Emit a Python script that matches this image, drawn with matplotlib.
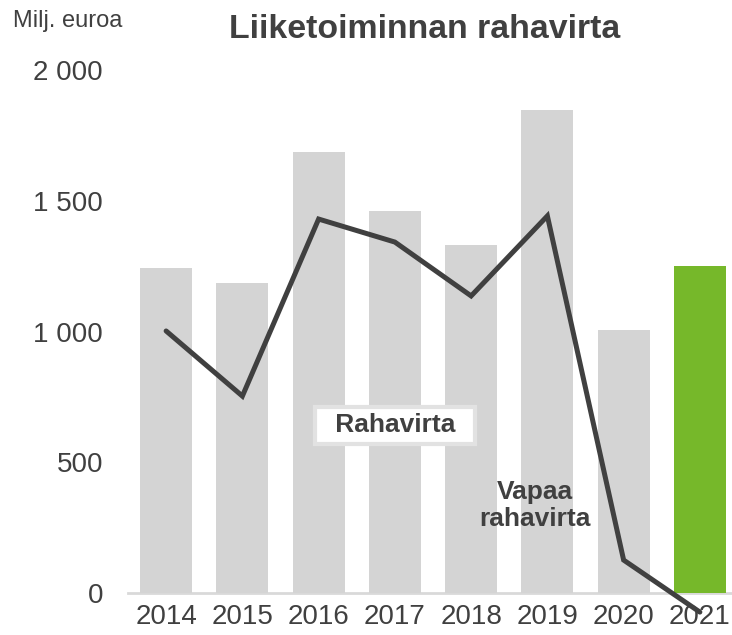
import matplotlib.pyplot as plt
import numpy as np

plt.rcParams['font.family'] = ['Liberation Sans', 'DejaVu Sans']

years = ['2014', '2015', '2016', '2017', '2018', '2019', '2020', '2021']
rahavirta = [1243, 1185, 1686, 1461, 1331, 1847, 1006, 1250]
vapaa_rahavirta = [1002, 753, 1430, 1342, 1136, 1442, 126, -73]
y_ticks = [0, 500, 1000, 1500, 2000]
y_tick_labels = ['0', '500', '1 000', '1 500', '2 000']

txt = '#404040'
bar_colors = ['#d4d4d4'] * (len(years) - 1) + ['#76b82a']

fig = plt.figure(figsize=(7.32, 6.35), dpi=100)
ax = fig.add_axes([128 / 732, 1 - 593 / 635, 610 / 732, (593 - 70) / 635])

x = np.arange(len(years))
ax.bar(x, rahavirta, width=0.68, color=bar_colors, zorder=2)
ax.plot(x, vapaa_rahavirta, color='#404040', lw=3.6, zorder=3, clip_on=False,
        solid_capstyle='round', solid_joinstyle='miter')

ax.set_xlim(-0.5, 7.5)
ax.set_ylim(0, 2000)
ax.set_xticks(x)
ax.set_xticklabels(years, fontsize=20, color=txt)
ax.set_yticks(y_ticks)
ax.set_yticklabels(y_tick_labels, fontsize=20, color=txt)
ax.tick_params(axis='x', length=0, pad=8)
ax.tick_params(axis='y', length=0, pad=18)
for s in ['top', 'right', 'left']:
    ax.spines[s].set_visible(False)
ax.spines['bottom'].set_color('#d9d9d9')
ax.spines['bottom'].set_linewidth(2)
ax.spines['bottom'].set_zorder(1)

# en spaces widen the white box sideways only
ax.text(3.0, 642, '\u2002Rahavirta\u2002', fontsize=19, fontweight='bold', color=txt,
        ha='center', va='center', zorder=4,
        bbox=dict(boxstyle='square,pad=0.25', fc='white', ec='#e2e2e2', lw=3))
ax.text(4.84, 333, 'Vapaa\nrahavirta', fontsize=19, fontweight='bold', color=txt,
        ha='center', va='center', zorder=4, linespacing=1.15)

fig.text(13 / 732, 1 - 21 / 635, 'Milj. euroa', fontsize=17, color=txt,
         ha='left', va='center')
fig.text(425 / 732, 1 - 30 / 635, 'Liiketoiminnan rahavirta', fontsize=24.4,
         fontweight='bold', color=txt, ha='center', va='center')

fig.savefig('out.png', dpi=100)
